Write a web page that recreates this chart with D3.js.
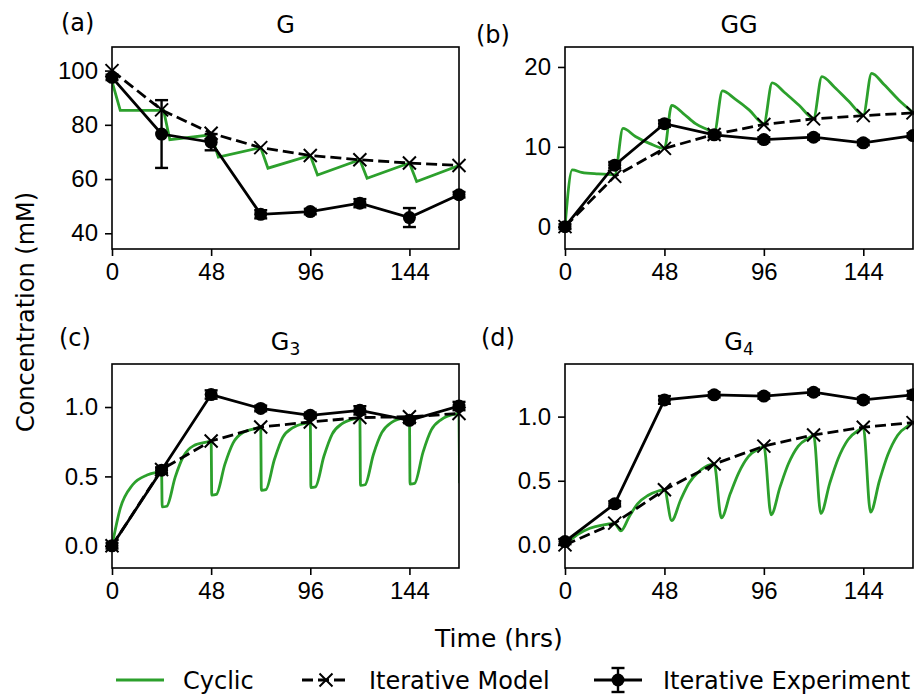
<!DOCTYPE html>
<meta charset="utf-8" />
<style>
  body { margin: 0; background: white; }
  svg { font-family: "DejaVu Sans", sans-serif; }
  .axis text { font-size: 24px; fill: #000; }
  .axis line { stroke: #000; stroke-width: 1.6px; }
  .label { font-size: 24px; fill: #000; }
</style>
<body>
  <svg id="chart" width="914" height="694"></svg>
</body>
<script src="https://d3js.org/d3.v7.min.js"></script>
<script>
  // sampling times of the iterative runs
  const hours = [0, 24, 48, 72, 96, 120, 144, 168];
  const xTicks = [0, 48, 96, 144];

  // (a) G
  const expG = [97.5, 76.6, 73.6, 47.0, 48.0, 51.1, 45.8, 54.2];
  const expGErr = [1.0, 12.5, 3.0, 1.5, 1.0, 1.5, 3.5, 1.0];
  const modelG = [100, 85.5, 76.9, 71.6, 68.7, 67.1, 65.9, 65.0];
  const cyclicG = [[0, 96], [4, 85.3], [25, 85.3], [28, 74.5], [48, 76.3], [51.5, 68.1], [72, 71.6], [75.5, 64.0],
    [96, 68.7], [99.5, 61.5], [120, 67.1], [123.5, 60.3], [144, 65.9], [147.5, 59.1], [168, 65.0]];

  // (b) GG
  const expGG = [0, 7.7, 12.9, 11.5, 10.9, 11.2, 10.5, 11.4];
  const expGGErr = [0.3, 0.4, 0.4, 0.3, 0.3, 0.3, 0.3, 0.3];
  const modelGG = [0, 6.3, 9.8, 11.55, 12.8, 13.5, 13.9, 14.25];
  const cyclicGG = [[0, 0], [3.5, 7.1], [8, 6.8], [16, 6.6], [24, 6.5], [28, 12.3], [34, 11.3], [41, 10.4], [48, 9.8],
    [51.5, 15.2], [57, 14.2], [63, 12.9], [70, 12.0], [72, 11.7], [76, 17.0], [82, 16.0], [89, 14.6], [96, 12.9],
    [100, 18.0], [106, 16.8], [113, 15.2], [120, 13.6], [124, 18.8], [130, 17.5], [137, 15.7], [144, 14.0],
    [148, 19.2], [154, 17.8], [161, 15.9], [168, 14.3]];

  // (c) G3
  const expG3 = [0, 0.545, 1.09, 0.99, 0.94, 0.976, 0.904, 1.007];
  const expG3Err = [0.02, 0.02, 0.03, 0.02, 0.02, 0.03, 0.02, 0.03];
  const modelG3 = [0, 0.55, 0.755, 0.856, 0.892, 0.924, 0.93, 0.953];
  const cyclicG3 = [[0, 0], [4, 0.27], [10, 0.44], [17, 0.51], [22, 0.53], [24, 0.535], [24.3, 0.28], [26.5, 0.285],
    [30.6, 0.495], [34.6, 0.645], [39.4, 0.72], [46.7, 0.75], [48, 0.755], [48.3, 0.365], [50.5, 0.37], [54.6, 0.585],
    [58.6, 0.74], [63.4, 0.816], [70.7, 0.85], [72, 0.856], [72.3, 0.40], [74.5, 0.405], [78.6, 0.62], [82.6, 0.78],
    [87.4, 0.85], [94.7, 0.887], [96, 0.892], [96.3, 0.42], [98.5, 0.425], [102.6, 0.645], [106.6, 0.805],
    [111.4, 0.88], [118.7, 0.92], [120, 0.924], [120.3, 0.435], [122.5, 0.44], [126.6, 0.66], [130.6, 0.815],
    [135.4, 0.89], [142.7, 0.927], [144, 0.93], [144.3, 0.445], [146.5, 0.45], [150.6, 0.675], [154.6, 0.835],
    [159.4, 0.91], [166.7, 0.95], [168, 0.953], [168.3, 0.45]];

  // (d) G4
  const expG4 = [0.026, 0.32, 1.13, 1.17, 1.16, 1.19, 1.13, 1.17];
  const expG4Err = [0.02, 0.02, 0.03, 0.02, 0.02, 0.02, 0.02, 0.03];
  const modelG4 = [0, 0.17, 0.43, 0.63, 0.77, 0.857, 0.917, 0.953];
  const cyclicG4 = [[0, 0], [6, 0.08], [12, 0.13], [18, 0.155], [24, 0.165], [27, 0.11], [31, 0.22], [35, 0.32],
    [40, 0.385], [45, 0.42], [48, 0.43], [51.5, 0.19], [55.8, 0.35], [59.8, 0.48], [64.6, 0.57], [70.3, 0.625],
    [72, 0.63], [75.5, 0.21], [79.8, 0.40], [83.8, 0.56], [88.6, 0.69], [94.3, 0.755], [96, 0.77], [99.5, 0.235],
    [103.8, 0.45], [107.8, 0.63], [112.6, 0.77], [118.3, 0.84], [120, 0.857], [123.5, 0.245], [127.8, 0.48],
    [131.8, 0.67], [136.6, 0.82], [142.3, 0.9], [144, 0.917], [147.5, 0.255], [151.8, 0.50], [155.8, 0.70],
    [160.6, 0.855], [166.3, 0.935], [168, 0.953], [171.5, 0.26]];

  const green = "#2ca02c";

  const panels = [
    { tag: "(a)", title: "G", sub: "", exp: expG, err: expGErr, model: modelG, cyc: cyclicG, curve: d3.curveLinear,
      yDomain: [34.2, 108.7], yTicks: [40, 60, 80, 100], fmt: d3.format("d"),
      box: { x: 112, y: 47, w: 347, h: 202 }, tagPos: [61, 31] },
    { tag: "(b)", title: "GG", sub: "", exp: expGG, err: expGGErr, model: modelGG, cyc: cyclicGG, curve: d3.curveMonotoneX,
      yDomain: [-2.8, 22.5], yTicks: [0, 10, 20], fmt: d3.format("d"),
      box: { x: 565, y: 47, w: 348, h: 202 }, tagPos: [476, 43] },
    { tag: "(c)", title: "G", sub: "3", exp: expG3, err: expG3Err, model: modelG3, cyc: cyclicG3, curve: d3.curveMonotoneX,
      yDomain: [-0.16, 1.31], yTicks: [0, 0.5, 1.0], fmt: d3.format(".1f"),
      box: { x: 112, y: 364, w: 347, h: 204 }, tagPos: [59, 346] },
    { tag: "(d)", title: "G", sub: "4", exp: expG4, err: expG4Err, model: modelG4, cyc: cyclicG4, curve: d3.curveMonotoneX,
      yDomain: [-0.18, 1.41], yTicks: [0, 0.5, 1.0], fmt: d3.format(".1f"),
      box: { x: 565, y: 364, w: 348, h: 204 }, tagPos: [481, 346] },
  ];

  const svg = d3.select("#chart");
  const defs = svg.append("defs");

  // x marker path of given half size
  const xMark = (s) => `M${-s},${-s}L${s},${s}M${-s},${s}L${s},${-s}`;

  panels.forEach((p, i) => {
    const b = p.box;
    const x = d3.scaleLinear().domain([0, 168]).range([0, b.w]);
    const y = d3.scaleLinear().domain(p.yDomain).range([b.h, 0]);

    defs.append("clipPath").attr("id", "clip" + i)
      .append("rect").attr("width", b.w).attr("height", b.h);

    const g = svg.append("g").attr("transform", `translate(${b.x},${b.y})`);

    // axes
    g.append("g").attr("class", "axis")
      .attr("transform", `translate(0,${b.h})`)
      .call(d3.axisBottom(x).tickValues(xTicks).tickSize(7).tickPadding(7).tickSizeOuter(0))
      .call((a) => a.select(".domain").remove());
    g.append("g").attr("class", "axis")
      .call(d3.axisLeft(y).tickValues(p.yTicks).tickFormat(p.fmt).tickSize(7).tickPadding(7).tickSizeOuter(0))
      .call((a) => a.select(".domain").remove());

    const plot = g.append("g").attr("clip-path", `url(#clip${i})`);

    // cyclic simulation
    plot.append("path")
      .datum(p.cyc)
      .attr("fill", "none")
      .attr("stroke", green)
      .attr("stroke-width", 2.8)
      .attr("d", d3.line().curve(p.curve).x((d) => x(d[0])).y((d) => y(d[1])));

    // iterative model
    const modelPts = hours.map((h, k) => [h, p.model[k]]);
    plot.append("path")
      .datum(modelPts)
      .attr("fill", "none")
      .attr("stroke", "#000")
      .attr("stroke-width", 2.8)
      .attr("stroke-dasharray", "11,5")
      .attr("d", d3.line().x((d) => x(d[0])).y((d) => y(d[1])));
    g.selectAll(".xm")
      .data(modelPts)
      .join("path")
      .attr("transform", (d) => `translate(${x(d[0])},${y(d[1])})`)
      .attr("d", xMark(6.5))
      .attr("stroke", "#000")
      .attr("stroke-width", 2)
      .attr("fill", "none");

    // iterative experiment
    const expPts = hours.map((h, k) => [h, p.exp[k], p.err[k]]);
    plot.append("path")
      .datum(expPts)
      .attr("fill", "none")
      .attr("stroke", "#000")
      .attr("stroke-width", 2.8)
      .attr("d", d3.line().x((d) => x(d[0])).y((d) => y(d[1])));
    const eb = g.selectAll(".eb").data(expPts).join("g")
      .attr("transform", (d) => `translate(${x(d[0])},0)`);
    eb.append("line")
      .attr("y1", (d) => y(d[1] - d[2])).attr("y2", (d) => y(d[1] + d[2]))
      .attr("stroke", "#000").attr("stroke-width", 2.4);
    [-1, 1].forEach((s) => {
      eb.append("line")
        .attr("x1", -6.5).attr("x2", 6.5)
        .attr("y1", (d) => y(d[1] + s * d[2])).attr("y2", (d) => y(d[1] + s * d[2]))
        .attr("stroke", "#000").attr("stroke-width", 2.4);
    });
    eb.append("circle")
      .attr("cy", (d) => y(d[1]))
      .attr("r", 6.5)
      .attr("fill", "#000");

    // frame
    g.append("rect")
      .attr("width", b.w).attr("height", b.h)
      .attr("fill", "none").attr("stroke", "#000").attr("stroke-width", 1.6);

    // title
    const t = g.append("text").attr("class", "label")
      .attr("x", b.w / 2).attr("y", -14)
      .attr("text-anchor", "middle")
      .text(p.title);
    if (p.sub) t.append("tspan").attr("font-size", "17px").attr("dy", 5).text(p.sub);

    svg.append("text").attr("class", "label")
      .attr("x", p.tagPos[0]).attr("y", p.tagPos[1])
      .text(p.tag);
  });

  // shared axis titles
  svg.append("text").attr("class", "label")
    .attr("transform", "translate(34,312) rotate(-90)")
    .attr("text-anchor", "middle")
    .text("Concentration (mM)");
  svg.append("text").attr("class", "label")
    .attr("x", 499).attr("y", 647)
    .attr("text-anchor", "middle")
    .style("font-size", "25px")
    .text("Time (hrs)");

  // legend
  const ly = 680;
  const leg = svg.append("g");
  leg.append("line").attr("x1", 116).attr("x2", 164).attr("y1", ly).attr("y2", ly)
    .attr("stroke", green).attr("stroke-width", 2.8);
  leg.append("text").attr("class", "label").attr("x", 183).attr("y", ly + 9).text("Cyclic");

  leg.append("line").attr("x1", 302).attr("x2", 350).attr("y1", ly).attr("y2", ly)
    .attr("stroke", "#000").attr("stroke-width", 2.8).attr("stroke-dasharray", "11,5");
  leg.append("path").attr("transform", `translate(326,${ly})`).attr("d", xMark(6.5))
    .attr("stroke", "#000").attr("stroke-width", 2).attr("fill", "none");
  leg.append("text").attr("class", "label").attr("x", 369).attr("y", ly + 9).text("Iterative Model");

  leg.append("line").attr("x1", 594).attr("x2", 642).attr("y1", ly).attr("y2", ly)
    .attr("stroke", "#000").attr("stroke-width", 2.8);
  leg.append("line").attr("x1", 618).attr("x2", 618).attr("y1", ly - 12).attr("y2", ly + 12)
    .attr("stroke", "#000").attr("stroke-width", 2.4);
  [-12, 12].forEach((o) => {
    leg.append("line").attr("x1", 611.5).attr("x2", 624.5).attr("y1", ly + o).attr("y2", ly + o)
      .attr("stroke", "#000").attr("stroke-width", 2.4);
  });
  leg.append("circle").attr("cx", 618).attr("cy", ly).attr("r", 6.5).attr("fill", "#000");
  leg.append("text").attr("class", "label").attr("x", 663).attr("y", ly + 9).text("Iterative Experiment");
</script>
